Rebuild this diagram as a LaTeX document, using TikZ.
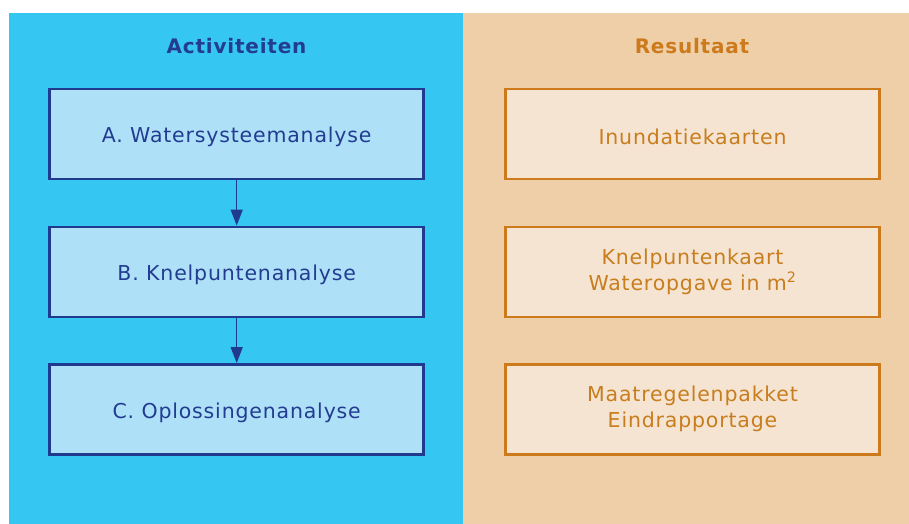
\documentclass[tikz,border=0pt]{standalone}
\usepackage{fontspec}
\setmainfont{DejaVu Sans}[LetterSpace=4]
\usetikzlibrary{positioning, arrows.meta}
\definecolor{panelblue}{RGB}{54,198,242}
\definecolor{panelsand}{RGB}{238,207,168}
\definecolor{actfill}{RGB}{174,225,248}
\definecolor{actdraw}{RGB}{31,58,143}
\definecolor{acttext}{RGB}{35,60,145}
\definecolor{resfill}{RGB}{245,228,209}
\definecolor{resdraw}{RGB}{204,122,28}
\definecolor{restext}{RGB}{200,125,30}
\tikzstyle{actbox} = [rectangle, draw=actdraw, line width=2.5pt, fill=actfill,
text=acttext, minimum width=374pt, minimum height=90pt, align=center,
execute at begin node={\rule{0pt}{22pt}}, font=\fontsize{20.5}{26}\selectfont]
\tikzstyle{resbox} = [rectangle, draw=resdraw, line width=2.5pt, fill=resfill,
text=restext, minimum width=374pt, minimum height=90pt, align=center,
execute at begin node={\rule{0pt}{22pt}}, font=\fontsize{20.5}{26}\selectfont]
\tikzstyle{title} = [anchor=base, font=\fontsize{20}{24}\selectfont\bfseries]
\tikzstyle{line} = [draw=actdraw, line width=1.3pt, -{Triangle[length=16pt,width=12pt]}]

\begin{document}
\begin{tikzpicture}[x=1pt, y=1pt]
    \useasboundingbox (0,0) rectangle (909,-524);
    \fill [panelblue] (9,-13) rectangle (463,-524);
    \fill [panelsand] (463,-13) rectangle (909,-524);
    \node [title, text=acttext] (acttitle) at (236.5,-54) {Activiteiten};
    \node [title, text=resdraw] (restitle) at (692,-54) {Resultaat};
    \node [actbox] (wsa) at (236.7,-133.8) {A. Watersysteemanalyse};
    \node [actbox, below of=wsa, node distance=138pt] (kpa) {B. Knelpuntenanalyse};
    \node [actbox, below of=kpa, node distance=137.5pt] (opa) {C. Oplossingenanalyse};
    \node [resbox] (inu) at (692.5,-133.8) {Inundatiekaarten};
    \node [resbox, below of=inu, node distance=138pt] (kpk) {Knelpuntenkaart\\Wateropgave in m\textsuperscript{2}};
    \node [resbox, below of=kpk, node distance=137.5pt] (mrp) {Maatregelenpakket\\Eindrapportage};
    \path [line] (wsa) -- (kpa);
    \path [line] (kpa) -- (opa);
\end{tikzpicture}
\end{document}
